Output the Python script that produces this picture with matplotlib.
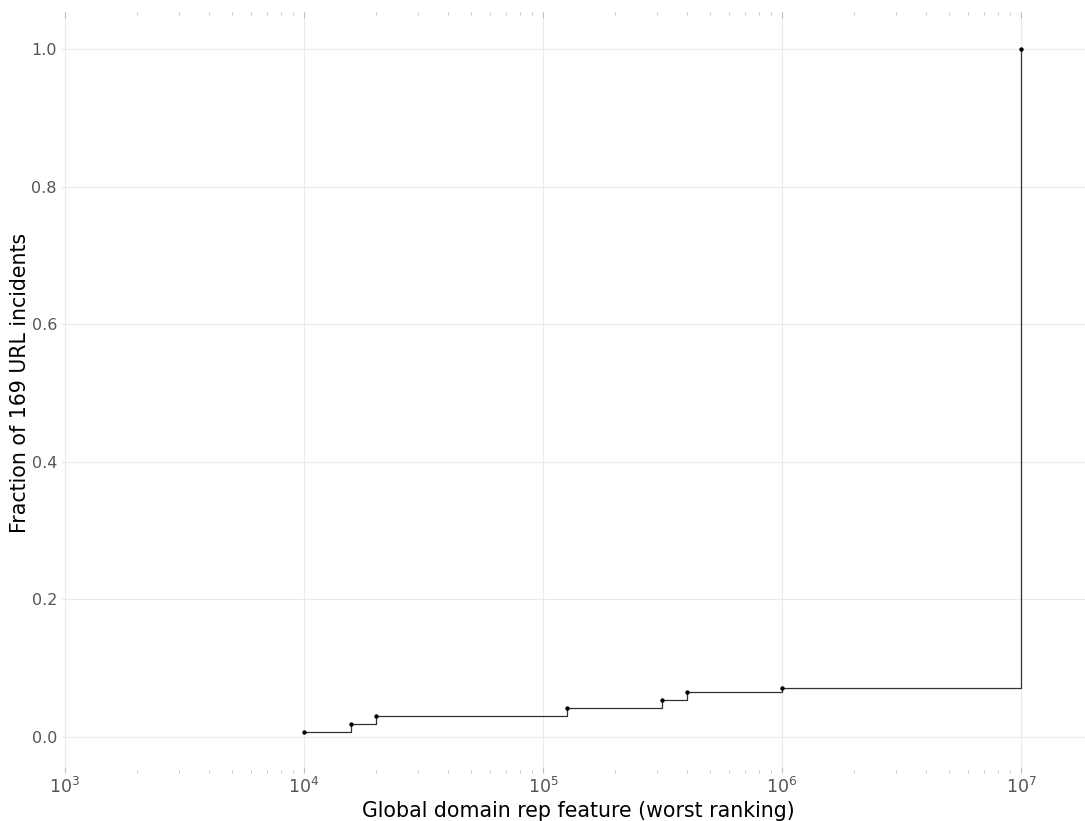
import numpy as np
import matplotlib
matplotlib.use("Agg")
import matplotlib.pyplot as plt
from matplotlib.ticker import LogLocator, FixedLocator, NullFormatter

# worst global domain ranking per incident (step points)
ranks = [1e4, 1.58e4, 2.0e4, 1.26e5, 3.16e5, 4.0e5, 1e6, 1e7]
counts = [1, 3, 5, 7, 9, 11, 12, 169]
n_total = 169
frac = [c / n_total for c in counts]

xlim = (10 ** 2.9874, 10 ** 7.2678)
ylim = (-0.053, 1.054)
yticks = [0.0, 0.2, 0.4, 0.6, 0.8, 1.0]
xticks = [1e3, 1e4, 1e5, 1e6, 1e7]
xticklabels = [r'$10^{%d}$' % int(np.log10(v)) for v in xticks]

W, H = 1085, 821
fig = plt.figure(figsize=(W / 100, H / 100), dpi=100)
ax = fig.add_axes([62 / W, (H - 773) / H, (W - 62) / W, (773 - 12) / H])

ax.step(ranks, frac, where='post', color='#333333', lw=0.9, zorder=3)
ax.scatter(ranks, frac, s=10, color='black', zorder=4, linewidths=0)

ax.set_xscale('log')
ax.set_xlim(xlim)
ax.set_ylim(ylim)

# light gridlines only
ax.set_yticks(yticks)
ax.set_yticklabels(['%.1f' % v for v in yticks])
ax.xaxis.set_major_locator(FixedLocator(xticks))
ax.set_xticklabels(xticklabels)
ax.xaxis.set_minor_locator(LogLocator(base=10, subs=np.arange(2, 10)))
ax.xaxis.set_minor_formatter(NullFormatter())
ax.grid(True, which='major', color='#ebebeb', lw=0.8, zorder=0)
ax.set_axisbelow(True)

for s in ax.spines.values():
    s.set_visible(False)

# log ticks at top and bottom, drawn inside the panel
ax.tick_params(axis='x', which='major', direction='in', top=True, bottom=True,
               length=4, width=0.8, color='#c0c0c0', labelsize=12.5,
               labelcolor='#555555', pad=3)
ax.tick_params(axis='x', which='minor', direction='in', top=True, bottom=True,
               length=2, width=0.7, color='#c8c8c8')
ax.tick_params(axis='y', which='major', length=0, labelsize=11.5,
               labelcolor='#555555', pad=3.6)

ax.set_xlabel('Global domain rep feature (worst ranking)', fontsize=14.8,
              color='black')
ax.xaxis.set_label_coords(0.505, -0.0368)
ax.set_ylabel('Fraction of 169 URL incidents', fontsize=14.8, color='black')
ax.yaxis.set_label_coords(-0.031, 0.5125)

fig.savefig('out.png', dpi=100)
